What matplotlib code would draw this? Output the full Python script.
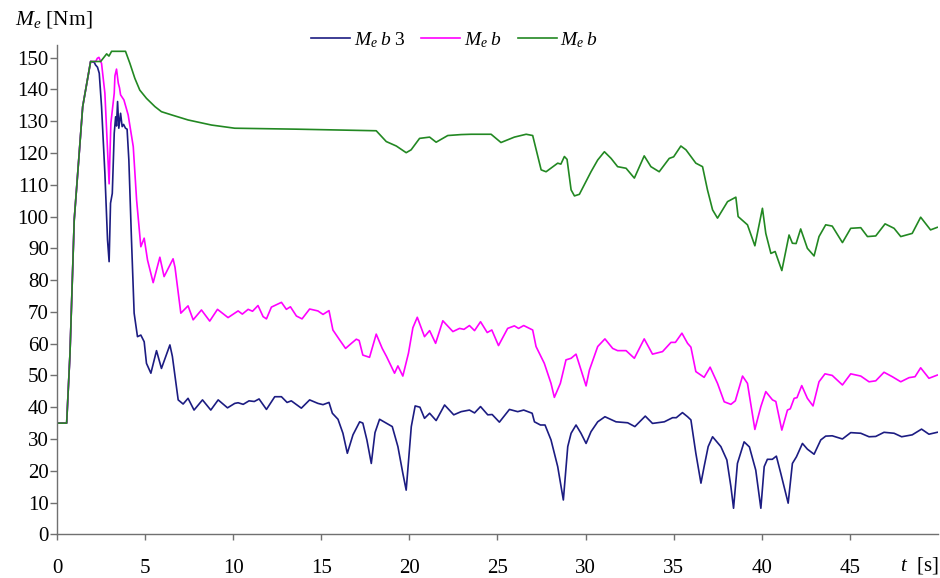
import matplotlib
matplotlib.use("Agg")
import matplotlib.pyplot as plt

plt.rcParams['font.family'] = ['Liberation Serif', 'DejaVu Serif']
plt.rcParams['mathtext.fontset'] = 'custom'
plt.rcParams['mathtext.rm'] = 'Liberation Serif'
plt.rcParams['mathtext.it'] = 'Liberation Serif:italic'

# Engine torque traces, (time [s], torque [Nm])
meb3_pts = [(0, 35), (0.55, 35), (0.74, 57), (0.98, 99), (1.46, 134.6), (1.91, 148.8), (2.12, 148.5),
            (2.19, 147.7), (2.3, 147), (2.4, 145.1), (2.53, 134.6), (2.72, 113.6), (2.87, 92.6), (2.96, 85.8),
            (3.04, 104.2), (3.14, 107.3), (3.25, 126.2), (3.33, 131.4), (3.38, 128.5), (3.44, 136.2),
            (3.51, 127.8), (3.61, 132.5), (3.7, 128.3), (3.78, 129), (3.89, 127.8), (3.98, 127.5),
            (4.08, 117.8), (4.23, 92.6), (4.38, 69.6), (4.57, 62.2), (4.76, 62.7), (4.95, 60.6), (5.08, 53.8),
            (5.33, 50.7), (5.65, 57.8), (5.93, 52.2), (6.41, 59.6), (6.55, 56), (6.88, 42.3), (7.16, 41),
            (7.44, 42.8), (7.78, 39.1), (8.26, 42.3), (8.73, 39.1), (9.15, 42.3), (9.68, 39.8), (10.09, 41.2),
            (10.28, 41.4), (10.57, 40.9), (10.9, 42), (11.2, 41.8), (11.47, 42.6), (11.89, 39.3), (12.36, 43.3),
            (12.74, 43.3), (13.06, 41.5), (13.3, 42), (13.87, 39.7), (14.34, 42.3), (14.81, 41.2), (15.1, 40.8),
            (15.44, 41.5), (15.63, 38.1), (15.95, 36.2), (16.23, 31.8), (16.48, 25.5), (16.8, 31.3),
            (17.18, 35.4), (17.36, 35), (17.59, 29.7), (17.84, 22.3), (18.05, 32), (18.31, 36.2), (18.65, 35.1),
            (19.03, 33.9), (19.35, 27.6), (19.63, 19.2), (19.82, 13.9), (20.11, 33.9), (20.33, 40.4),
            (20.6, 40), (20.86, 36.5), (21.15, 38.1), (21.52, 35.8), (22.0, 40.7), (22.52, 37.6), (22.94, 38.6),
            (23.41, 39.1), (23.7, 38.2), (24.04, 40.2), (24.45, 37.6), (24.7, 37.7), (25.11, 35.3),
            (25.68, 39.3), (26.15, 38.6), (26.49, 39.1), (26.97, 38.1), (27.1, 35.4), (27.44, 34.4),
            (27.7, 34.4), (28.04, 29.7), (28.42, 21.3), (28.74, 10.8), (28.99, 27.6), (29.18, 31.8),
            (29.46, 34.4), (29.74, 31.8), (30.03, 28.6), (30.31, 32.3), (30.69, 35.4), (31.1, 37), (31.73, 35.4),
            (32.39, 35.1), (32.8, 33.9), (33.39, 37.2), (33.8, 34.9), (34.47, 35.4), (34.94, 36.7),
            (35.15, 36.7), (35.5, 38.3), (35.79, 37), (35.98, 36), (36.26, 25.5), (36.55, 16.1), (36.73, 21.3),
            (36.96, 27.6), (37.21, 30.7), (37.68, 27.6), (38.02, 23.4), (38.25, 15), (38.4, 8.2), (38.62, 22.3),
            (39.0, 29.1), (39.3, 27.5), (39.66, 20.2), (39.95, 8.2), (40.14, 21.3), (40.32, 23.6), (40.6, 23.6),
            (40.83, 24.6), (41.08, 19.2), (41.36, 12.9), (41.5, 9.8), (41.74, 22.3), (41.97, 24.4),
            (42.31, 28.6), (42.59, 26.8), (42.97, 25.2), (43.35, 29.7), (43.63, 30.9), (44.0, 31), (44.58, 30),
            (45.05, 32), (45.62, 31.8), (46.09, 30.7), (46.47, 30.8), (46.94, 32.1), (47.51, 31.8),
            (47.94, 30.7), (48.54, 31.3), (49.07, 33.1), (49.49, 31.5), (49.96, 32.1)]

meb_mag_pts = [(0, 35), (0.55, 35), (0.74, 57), (0.98, 99), (1.46, 134.6), (1.91, 148.8), (2.2, 148.8),
               (2.29, 149.8), (2.38, 150.1), (2.53, 148.2), (2.72, 138.8), (2.87, 121), (2.96, 110.3),
               (3.06, 129.4), (3.25, 138.8), (3.29, 144.3), (3.38, 146.4), (3.48, 142), (3.55, 140.5),
               (3.61, 138.3), (3.8, 136.7), (4.04, 132), (4.33, 122), (4.52, 105.2), (4.76, 90.5), (4.95, 93.2),
               (5.14, 86.3), (5.46, 79.2), (5.84, 87.2), (6.08, 81.1), (6.59, 86.7), (6.7, 84), (7.03, 69.6),
               (7.44, 71.9), (7.73, 67.5), (8.2, 70.6), (8.67, 67.1), (9.11, 70.8), (9.71, 68.2), (10.09, 69.6),
               (10.28, 70.3), (10.52, 69.3), (10.85, 70.8), (11.1, 70.2), (11.41, 72), (11.7, 68.5),
               (11.89, 67.8), (12.17, 71.5), (12.74, 73), (13.02, 70.8), (13.25, 71.6), (13.59, 68.7),
               (13.91, 67.8), (14.34, 70.9), (14.81, 70.3), (15.1, 69.2), (15.44, 70.4), (15.66, 64.3),
               (16.04, 61.2), (16.38, 58.5), (16.71, 60.1), (16.99, 61.4), (17.15, 61), (17.36, 56.4),
               (17.74, 55.7), (18.12, 63), (18.46, 58.5), (18.7, 56), (19.16, 50.7), (19.35, 53), (19.63, 49.8),
               (19.95, 57), (20.2, 65), (20.45, 68.3), (20.86, 62.2), (21.15, 64.1), (21.49, 60.1), (21.9, 67.2),
               (22.47, 63.8), (22.85, 64.8), (23.1, 64.5), (23.41, 65.7), (23.7, 64.1), (24.04, 66.9),
               (24.42, 63.5), (24.68, 64.3), (25.06, 59.4), (25.58, 64.8), (25.96, 65.6), (26.2, 64.8),
               (26.49, 65.7), (27.0, 64.3), (27.19, 59.1), (27.66, 53.8), (28.04, 47.5), (28.23, 43.1),
               (28.57, 47.5), (28.89, 54.9), (29.18, 55.4), (29.46, 56.7), (30.03, 46.7), (30.22, 51.7),
               (30.69, 59.1), (31.1, 61.5), (31.54, 58.5), (31.82, 57.8), (32.3, 57.8), (32.77, 55.4),
               (33.33, 61.5), (33.8, 56.7), (34.37, 57.5), (34.85, 60.4), (35.1, 60.4), (35.47, 63.3),
               (35.79, 60.1), (35.98, 58.9), (36.26, 51.2), (36.73, 49.4), (37.07, 52.6), (37.49, 47.5),
               (37.87, 41.7), (38.25, 40.9), (38.5, 42), (38.91, 49.8), (39.19, 47.5), (39.61, 33), (39.95, 40.2),
               (40.23, 44.9), (40.61, 42.3), (40.8, 41.8), (41.14, 32.8), (41.46, 39.1), (41.62, 39.5),
               (41.84, 42.8), (42.0, 43), (42.27, 46.8), (42.59, 42.8), (42.91, 40.4), (43.25, 48), (43.59, 50.5),
               (44.0, 50), (44.58, 47), (45.05, 50.5), (45.62, 49.8), (46.09, 48), (46.47, 48.3), (46.94, 51),
               (47.41, 49.6), (47.89, 48), (48.36, 49.3), (48.7, 49.6), (49.02, 52.4), (49.49, 49.1),
               (49.96, 50.1)]

meb_grn_pts = [(0, 35), (0.55, 35), (0.74, 57), (0.98, 99), (1.46, 134.6), (1.91, 148.8), (2.48, 148.8),
               (2.82, 151.2), (2.95, 150.5), (3.1, 152), (3.89, 152), (4.14, 148.2), (4.42, 143.5), (4.7, 139.8),
               (5.08, 137.2), (5.56, 134.6), (5.93, 133), (6.5, 132), (7.44, 130.4), (8.77, 128.8),
               (10.09, 127.8), (13.59, 127.5), (18.12, 127), (18.69, 123.6), (19.26, 122.2), (19.82, 120.1),
               (20.1, 121), (20.58, 124.6), (21.15, 125), (21.52, 123.4), (22.18, 125.5), (22.94, 125.8),
               (23.51, 125.9), (24.64, 125.9), (25.2, 123.3), (25.96, 125), (26.63, 125.9), (27.0, 125.5),
               (27.48, 114.7), (27.76, 114.1), (28.42, 116.8), (28.6, 116.5), (28.8, 118.9), (28.95, 118),
               (29.18, 108.4), (29.37, 106.5), (29.65, 107), (30.31, 114.1), (30.69, 117.8), (31.07, 120.4),
               (31.45, 118.3), (31.82, 115.7), (32.3, 115.2), (32.77, 112.1), (33.33, 119.1), (33.71, 115.7),
               (34.18, 114.1), (34.75, 118.3), (35.0, 118.8), (35.41, 122.2), (35.7, 121), (35.98, 118.9),
               (36.26, 116.8), (36.64, 115.7), (36.92, 108.4), (37.21, 102.1), (37.49, 99.5), (38.06, 104.7),
               (38.53, 106.1), (38.66, 100), (39.19, 97.4), (39.61, 90.8), (40.04, 102.6), (40.23, 94.7),
               (40.52, 88.4), (40.76, 89), (41.14, 83), (41.55, 94.2), (41.74, 91.6), (41.95, 91.5),
               (42.21, 96.1), (42.59, 90), (42.97, 87.6), (43.25, 93.7), (43.63, 97.4), (44.0, 97),
               (44.58, 91.8), (45.05, 96.3), (45.62, 96.5), (46.0, 93.7), (46.47, 93.9), (47.0, 97.7),
               (47.51, 96.3), (47.89, 93.7), (48.54, 94.7), (49.02, 99.8), (49.58, 95.8), (49.96, 96.6)]

series = [
    (meb3_pts, r'$M_e\;b\;3$', '#1c1c82'),
    (meb_mag_pts, r'$M_e\;b$', '#ff00ff'),
    (meb_grn_pts, r'$M_e\;b$', '#228822'),
]

x_ticks = [0, 5, 10, 15, 20, 25, 30, 35, 40, 45]
y_ticks = [0, 10, 20, 30, 40, 50, 60, 70, 80, 90, 100, 110, 120, 130, 140, 150]

fig = plt.figure(figsize=(9.4, 5.78), dpi=100)
ax = fig.add_axes([0.0606, 0.0756, 0.9372, 0.8466])

for pts, label, color in series:
    t, m = zip(*pts)
    ax.plot(t, m, color=color, lw=1.2, label=label)

ax.set_xlim(0, 50)
ax.set_ylim(0, 154)
ax.set_xticks(x_ticks)
ax.set_yticks(y_ticks)

axis_grey = '#707070'
for side in ('top', 'right'):
    ax.spines[side].set_visible(False)
for side in ('left', 'bottom'):
    ax.spines[side].set_color(axis_grey)
    ax.spines[side].set_linewidth(1.0)

ax.tick_params(axis='x', direction='out', length=4, width=1.0, color=axis_grey,
               labelsize=15, pad=14)
ax.tick_params(axis='y', direction='out', length=5, width=1.0, color=axis_grey,
               labelsize=15, pad=1)

fig.text(15 / 940, 1 - 20 / 578, r'$M_e$ [Nm]', fontsize=15.5, ha='left', va='center')
fig.text(919 / 940, 1 - 566 / 578, r'$t$  [s]', fontsize=15, ha='center', va='center')

fig.legend(loc='center', bbox_to_anchor=(455 / 940, 1 - 40 / 578), ncol=3, frameon=False,
           fontsize=14, handlelength=2.0, handletextpad=0.2, columnspacing=0.8)

fig.savefig('out.png', dpi=100)
